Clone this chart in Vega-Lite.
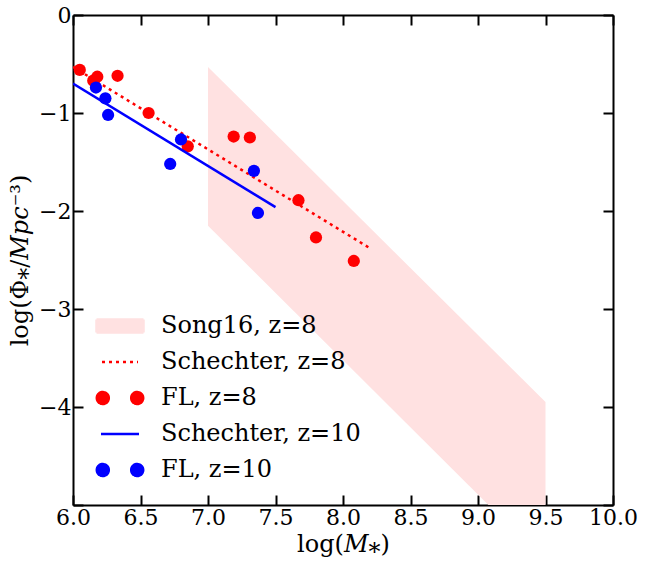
{
  "$schema": "https://vega.github.io/schema/vega-lite/v6.json",
  "autosize": {"type": "none"},
  "padding": {"left": 73, "top": 15, "right": 33, "bottom": 57},
  "width": 540,
  "height": 490,
  "background": "white",
  "config": {
    "view": {"stroke": null},
    "font": "DejaVu Serif",
    "axis": {
      "grid": false,
      "domainColor": "black",
      "domainWidth": 2,
      "tickColor": "black",
      "tickWidth": 2,
      "tickSize": -10,
      "labelFont": "DejaVu Serif",
      "labelFontSize": 22,
      "labelColor": "black",
      "titleFont": "DejaVu Serif",
      "titleFontSize": 24,
      "titleFontWeight": "normal",
      "titleColor": "black"
    },
    "legend": {
      "labelFont": "DejaVu Serif",
      "labelFontSize": 24,
      "labelColor": "black",
      "labelLimit": 400
    }
  },
  "datasets": {
    "band": [
      {"series": "Song16, z=8", "m": 7.0, "hi": -0.53, "lo": -2.15},
      {"series": "Song16, z=8", "m": 9.5, "hi": -3.95, "lo": -5.58}
    ],
    "sch8": [
      {"series": "Schechter, z=8", "m": 6.0, "phi": -0.53},
      {"series": "Schechter, z=8", "m": 8.2, "phi": -2.38}
    ],
    "fl8": [
      {"series": "FL, z=8", "m": 6.05, "phi": -0.56},
      {"series": "FL, z=8", "m": 6.18, "phi": -0.63},
      {"series": "FL, z=8", "m": 6.15, "phi": -0.67},
      {"series": "FL, z=8", "m": 6.33, "phi": -0.62},
      {"series": "FL, z=8", "m": 6.56, "phi": -1.0},
      {"series": "FL, z=8", "m": 6.85, "phi": -1.34},
      {"series": "FL, z=8", "m": 7.19, "phi": -1.24},
      {"series": "FL, z=8", "m": 7.31, "phi": -1.25},
      {"series": "FL, z=8", "m": 7.67, "phi": -1.89},
      {"series": "FL, z=8", "m": 7.8, "phi": -2.27},
      {"series": "FL, z=8", "m": 8.08, "phi": -2.51}
    ],
    "sch10": [
      {"series": "Schechter, z=10", "m": 6.0, "phi": -0.7},
      {"series": "Schechter, z=10", "m": 7.5, "phi": -1.96}
    ],
    "fl10": [
      {"series": "FL, z=10", "m": 6.17, "phi": -0.74},
      {"series": "FL, z=10", "m": 6.24, "phi": -0.85},
      {"series": "FL, z=10", "m": 6.26, "phi": -1.02},
      {"series": "FL, z=10", "m": 6.8, "phi": -1.27},
      {"series": "FL, z=10", "m": 6.72, "phi": -1.52},
      {"series": "FL, z=10", "m": 7.34, "phi": -1.59},
      {"series": "FL, z=10", "m": 7.37, "phi": -2.02}
    ]
  },
  "resolve": {"axis": {"x": "independent", "y": "independent"}},
  "layer": [
    {
      "data": {"name": "band"},
      "mark": {"type": "area", "clip": true, "opacity": 1},
      "encoding": {
        "x": {
          "field": "m", "type": "quantitative",
          "scale": {"domain": [6, 10], "nice": false, "zero": false},
          "axis": {
            "orient": "bottom",
            "values": [6.0, 6.5, 7.0, 7.5, 8.0, 8.5, 9.0, 9.5, 10.0],
            "format": ".1f",
            "labelPadding": 12,
            "labelFlush": false,
            "title": "log(𝑀⁎)",
            "titlePadding": 4
          }
        },
        "y": {
          "field": "hi", "type": "quantitative",
          "scale": {"domain": [-5, 0], "nice": false, "zero": false},
          "axis": {
            "orient": "left",
            "values": [0, -1, -2, -3, -4, -5],
            "format": "d",
            "labelExpr": "datum.value == -5 ? '' : datum.label",
            "labelPadding": 12,
            "labelFlush": false,
            "title": "log(Φ⁎/𝑀𝑝𝑐⁻³)",
            "titlePadding": 6
          }
        },
        "y2": {"field": "lo"},
        "color": {
          "field": "series", "type": "nominal",
          "scale": {
            "domain": ["Song16, z=8", "Schechter, z=8", "FL, z=8", "Schechter, z=10", "FL, z=10"],
            "range": ["#ffe1e1", "#ff0000", "#ff0000", "#0000ff", "#0000ff"]
          },
          "legend": {
            "title": null,
            "orient": "none",
            "legendX": 35,
            "legendY": 299,
            "padding": 0,
            "symbolSize": 400,
            "rowPadding": 12,
            "labelOffset": 29,
            "labelFontSize": 24,
            "labelLimit": 400,
            "symbolStrokeWidth": 2.5,
            "encoding": {
              "symbols": {
                "shape": {
                  "condition": [
                    {"test": "datum.value === 'Song16, z=8'", "value": "M-2.35,-0.65H2.35V0.65H-2.35Z"},
                    {"test": "datum.value === 'Schechter, z=8'", "value": "M-1.8,0H1.8"},
                    {"test": "datum.value === 'Schechter, z=10'", "value": "M-1.9,0H1.9"}
                  ],
                  "value": "M-2.32,0A0.6,0.6,0,1,0,-1.12,0A0.6,0.6,0,1,0,-2.32,0ZM1.12,0A0.6,0.6,0,1,0,2.32,0A0.6,0.6,0,1,0,1.12,0Z"
                },
                "fill": {
                  "condition": [
                    {"test": "datum.value === 'Song16, z=8'", "value": "#ffe1e1"},
                    {"test": "datum.value === 'FL, z=8'", "value": "#ff0000"},
                    {"test": "datum.value === 'FL, z=10'", "value": "#0000ff"}
                  ],
                  "value": "transparent"
                },
                "stroke": {
                  "condition": [
                    {"test": "datum.value === 'Schechter, z=8'", "value": "#ff0000"},
                    {"test": "datum.value === 'Schechter, z=10'", "value": "#0000ff"}
                  ],
                  "value": "transparent"
                },
                "strokeDash": {
                  "condition": {"test": "datum.value === 'Schechter, z=8'", "value": [3, 4]},
                  "value": [1, 0]
                },
                "strokeWidth": {"value": 2.5},
                "opacity": {"value": 1},
                "fillOpacity": {"value": 1}
              }
            }
          }
        }
      }
    },
    {
      "data": {"name": "sch8"},
      "mark": {"type": "line", "strokeDash": [3, 4], "strokeWidth": 2.5, "clip": true},
      "encoding": {
        "x": {"field": "m", "type": "quantitative", "axis": {"orient": "top", "values": [6.0, 6.5, 7.0, 7.5, 8.0, 8.5, 9.0, 9.5, 10.0], "labels": false, "title": null}},
        "y": {"field": "phi", "type": "quantitative", "axis": {"orient": "right", "values": [0, -1, -2, -3, -4, -5], "labels": false, "title": null}},
        "color": {"field": "series", "type": "nominal"}
      }
    },
    {
      "data": {"name": "fl8"},
      "mark": {"type": "point", "filled": true, "size": 150, "opacity": 1, "clip": true},
      "encoding": {
        "x": {"field": "m", "type": "quantitative", "axis": null},
        "y": {"field": "phi", "type": "quantitative", "axis": null},
        "color": {"field": "series", "type": "nominal"}
      }
    },
    {
      "data": {"name": "sch10"},
      "mark": {"type": "line", "strokeWidth": 2.5, "clip": true},
      "encoding": {
        "x": {"field": "m", "type": "quantitative", "axis": null},
        "y": {"field": "phi", "type": "quantitative", "axis": null},
        "color": {"field": "series", "type": "nominal"}
      }
    },
    {
      "data": {"name": "fl10"},
      "mark": {"type": "point", "filled": true, "size": 150, "opacity": 1, "clip": true},
      "encoding": {
        "x": {"field": "m", "type": "quantitative", "axis": null},
        "y": {"field": "phi", "type": "quantitative", "axis": null},
        "color": {"field": "series", "type": "nominal"}
      }
    }
  ]
}
